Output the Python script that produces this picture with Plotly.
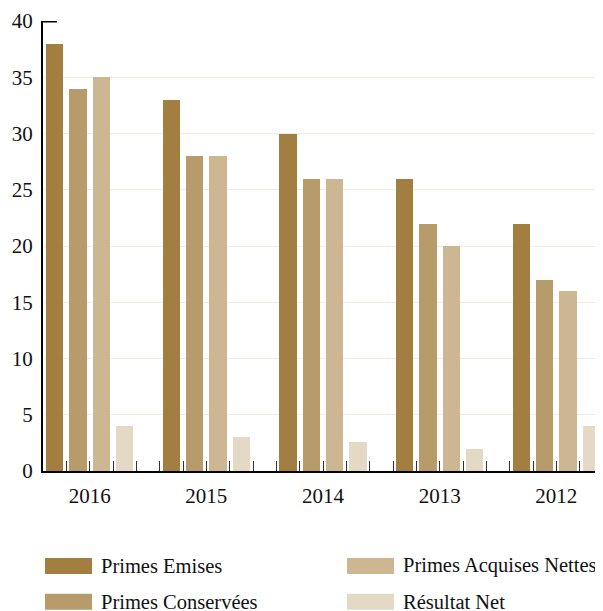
import plotly.graph_objects as go

years = ["2016", "2015", "2014", "2013", "2012"]
series_names = ["Primes Emises", "Primes Conservées", "Primes Acquises Nettes", "Résultat Net"]
primes_emises = [38, 33, 30, 26, 22]
primes_conservees = [34, 28, 26, 22, 17]
primes_acquises_nettes = [35, 28, 26, 20, 16]
resultat_net = [4, 3, 2.6, 2, 4]
series_values = [primes_emises, primes_conservees, primes_acquises_nettes, resultat_net]
colors = ["#A27F40", "#B89B6B", "#CDB793", "#E3D9C5"]
y_ticks = [0, 5, 10, 15, 20, 25, 30, 35, 40]

FONT = "Liberation Serif, Times New Roman, serif"
# page body adds an 8px offset, so the figure is sized to the visible area
W, H = 595, 603
ML, MR, MT, MB = 35, 0, 12.5, 140
PW, PH = W - ML - MR, H - MT - MB

slots_per_group = len(series_names) + 1
n_slots = len(years) * slots_per_group - 1

fig = go.Figure()
for i, (name, vals, col) in enumerate(zip(series_names, series_values, colors)):
    fig.add_trace(go.Bar(
        x=[g * slots_per_group + i for g in range(len(years))],
        y=vals, name=name, marker=dict(color=col, line=dict(width=0)),
        width=0.74, showlegend=False,
    ))

def px_x(p):
    return (p - ML) / PW

def px_y(p):
    return (H - MB - p) / PH

# custom legend (row-major: Emises, Acquises, Conservées, Résultat)
legend_order = [0, 2, 1, 3]
col_x = [37, 339]
row_y = [558, 594]
shapes = []
annotations = []
for k, idx in enumerate(legend_order):
    cx = col_x[k % 2]
    cy = row_y[k // 2]
    shapes.append(dict(type="rect", xref="paper", yref="paper",
                       x0=px_x(cx), x1=px_x(cx + 47), y0=px_y(cy - 8), y1=px_y(cy + 8),
                       fillcolor=colors[idx], line=dict(width=0), layer="above"))
    annotations.append(dict(xref="paper", yref="paper", x=px_x(cx + 54), y=px_y(cy),
                            xanchor="left", yanchor="middle", showarrow=False,
                            text=series_names[idx],
                            font=dict(family=FONT, size=20.5, color="#111")))

# small tick at the top of the y axis
shapes.append(dict(type="line", xref="x", yref="y", xsizemode="pixel", xanchor=-0.5,
                   x0=0, x1=14, y0=40, y1=40, line=dict(color="black", width=3), layer="above"))

fig.update_layout(
    width=W, height=H,
    margin=dict(l=ML, r=MR, t=MT, b=MB, autoexpand=False),
    paper_bgcolor="white", plot_bgcolor="white",
    bargap=0, barmode="overlay",
    font=dict(family=FONT, size=21, color="#111"),
    shapes=shapes, annotations=annotations,
    xaxis=dict(
        range=[-0.5, n_slots - 0.5],
        tickmode="array",
        tickvals=[g * slots_per_group + (len(series_names) - 1) / 2 for g in range(len(years))],
        ticktext=years,
        ticks="inside", ticklen=10, tickwidth=1, tickcolor="#333",
        minor=dict(tickmode="linear", tick0=-0.5, dtick=1, ticks="inside",
                   ticklen=10, tickwidth=1, tickcolor="#333", showgrid=False),
        showline=True, linecolor="black", linewidth=2,
        showgrid=False, zeroline=False,
        tickfont=dict(family=FONT, size=21, color="#111"),
        ticklabelstandoff=5, automargin=False,
    ),
    yaxis=dict(
        range=[0, 40], tickmode="array", tickvals=y_ticks,
        ticks="", showline=True, linecolor="black", linewidth=2,
        showgrid=True, gridcolor="#F1EBE1", gridwidth=1, zeroline=False,
        tickfont=dict(family=FONT, size=21, color="#111"),
        ticklabelstandoff=4, automargin=False,
    ),
)

fig.write_html("out.html")
